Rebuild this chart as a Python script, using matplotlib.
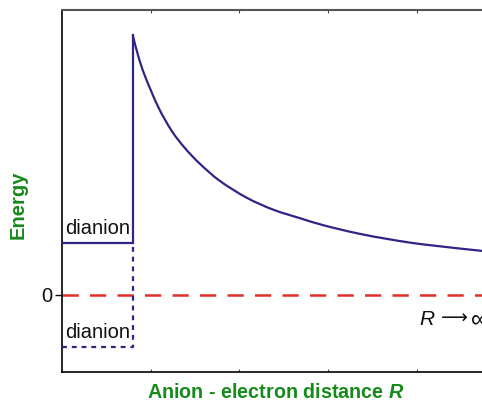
import matplotlib
matplotlib.use("Agg")
import matplotlib.pyplot as plt
from matplotlib.path import Path
from matplotlib.patches import PathPatch

plt.rcParams['font.family'] = ['Liberation Sans', 'DejaVu Sans']
plt.rcParams['mathtext.fontset'] = 'custom'
plt.rcParams['mathtext.rm'] = 'Liberation Sans'
plt.rcParams['mathtext.it'] = 'Liberation Sans:italic'
plt.rcParams['mathtext.bf'] = 'Liberation Sans:italic:bold'

# Data (arbitrary units)
curve_R = [0.797, 0.860, 0.936, 1.086, 1.237, 1.387, 1.556, 1.781, 2.082,
           2.382, 2.683, 2.946, 3.322, 3.698, 4.073, 4.735]
curve_E = [259.7, 238.5, 218.5, 187.5, 163.8, 146.5, 130.8, 113.7, 97.0,
           85.0, 76.5, 69.5, 61.5, 55.3, 50.3, 43.8]
R_edge = 0.797
upper_level = 52.0
lower_level = -52.0
zero_level = 0.0
level_label = "dianion"
y_tick_vals = [0]
y_tick_labels = ["0"]
x_tick_vals = [1, 2, 3, 4]

purple = '#2e2585'
red = '#e0302a'
green = '#178a1c'

fig = plt.figure(figsize=(4.82, 4.03), dpi=100)
W, H = 482, 403
left, right, top, bottom = 62, 505.5, 10, 372
ax = fig.add_axes([left / W, (H - bottom) / H, (right - left) / W, (bottom - top) / H])

ax.set_xlim(0, 5)
ax.set_ylim(-77.3, 284.7)

# zero line
ax.axhline(zero_level, color=red, lw=1.8, dashes=(6.5, 4.5), zorder=2)

# upper (solid) dianion level and vertical wall
ax.plot([0, R_edge, R_edge], [upper_level, upper_level, curve_E[0]], color=purple, lw=1.6,
        solid_joinstyle='miter', zorder=3)

# smooth curve through the read points (Catmull-Rom -> cubic Bezier, drawn in display space)
pts = [ax.transData.transform((r, e)) for r, e in zip(curve_R, curve_E)]
verts = [tuple(pts[0])]
codes = [Path.MOVETO]
n = len(pts)
for i in range(n - 1):
    p0 = pts[i - 1] if i > 0 else pts[i]
    p1 = pts[i]
    p2 = pts[i + 1]
    p3 = pts[i + 2] if i + 2 < n else pts[i + 1]
    c1 = p1 + (p2 - p0) / 6.0
    c2 = p2 - (p3 - p1) / 6.0
    verts += [tuple(c1), tuple(c2), tuple(p2)]
    codes += [Path.CURVE4] * 3
inv = ax.transData.inverted()
verts = [tuple(inv.transform(v)) for v in verts]
ax.add_patch(PathPatch(Path(verts, codes), fill=False, edgecolor=purple, lw=1.6, zorder=3,
                       joinstyle='miter'))

# lower (dashed) dianion level
ax.plot([0, R_edge, R_edge], [lower_level, lower_level, upper_level], color=purple, lw=1.6,
        dashes=(2.2, 2.2), zorder=3)

ax.text(0.03, upper_level + 5, level_label, fontsize=14.5, ha='left', va='bottom', color='#111111')
ax.text(0.03, lower_level + 5, level_label, fontsize=14.5, ha='left', va='bottom', color='#111111')

# R -> infinity label
ax.text(4.03, -25, 'R', fontsize=15, style='italic', ha='left', va='center', color='#111111')
ax.text(4.27, -24, '\u27f6', fontsize=13.5, ha='left', va='center', color='#111111',
        family=['DejaVu Sans'])
ax.text(4.61, -25, '\u221e', fontsize=18, ha='left', va='center', color='#111111',
        family=['Liberation Sans', 'DejaVu Sans'])

# spines
for s in ['left', 'bottom']:
    ax.spines[s].set_color('black')
    ax.spines[s].set_linewidth(1.2)
ax.spines['top'].set_color('#555555')
ax.spines['top'].set_linewidth(1.5)
ax.spines['right'].set_visible(False)

ax.set_yticks(y_tick_vals)
ax.set_yticklabels(y_tick_labels, fontsize=14.5)
ax.tick_params(axis='y', direction='out', length=5, width=1, pad=2, colors='#111111')
ax.set_xticks(x_tick_vals)
ax.set_xticklabels([])
ax.tick_params(axis='x', direction='in', length=2.5, width=0.8, top=True, bottom=True, colors='#444444')

fig.text(18 / W, 1 - 205 / H, 'Energy', rotation=90, fontsize=14.5, fontweight='bold',
         color=green, ha='center', va='center')
fig.text(275.5 / W, 1 - 393 / H, r'Anion - electron distance $\mathbf{R}$', fontsize=14.2,
         fontweight='bold', color=green, ha='center', va='center')

fig.savefig('out.png', dpi=100)
